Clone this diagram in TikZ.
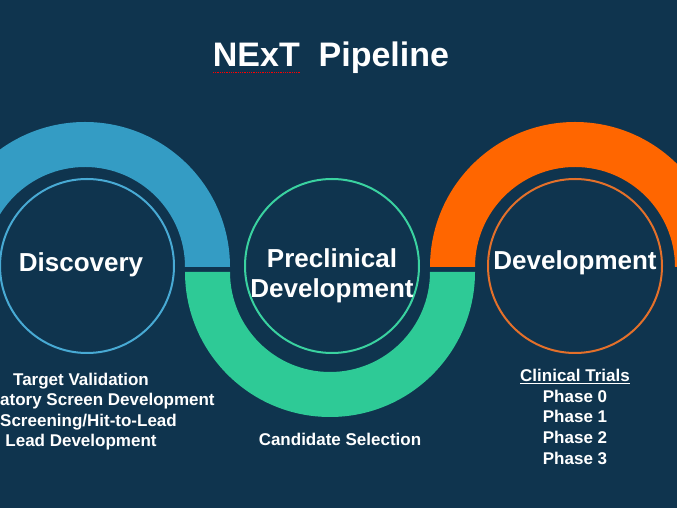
\documentclass[tikz,border=0pt]{standalone}
\usepackage{fontspec}
\setmainfont{Liberation Sans}
\definecolor{bg}{RGB}{15,52,78}
\definecolor{arcblue}{RGB}{52,156,196}
\definecolor{arcgreen}{RGB}{46,202,150}
\definecolor{arcorange}{RGB}{255,102,0}
\definecolor{ringblue}{RGB}{72,170,212}
\definecolor{ringgreen}{RGB}{58,210,160}
\definecolor{ringorange}{RGB}{228,112,42}

\begin{document}
\begin{tikzpicture}[x=1pt,y=1pt,
  big/.style={text=white,font=\bfseries\fontsize{26}{30}\selectfont,anchor=base,inner sep=0pt},
  small/.style={text=white,font=\bfseries\fontsize{17}{20}\selectfont,anchor=base,inner sep=0pt},
  ring/.style={circle,minimum size=174pt,line width=2pt,inner sep=0pt}]
\useasboundingbox (0,0) rectangle (677,508);
\clip (0,0) rectangle (677,508);
\fill[bg] (0,0) rectangle (677,508);
\fill[arcblue] (230,241) arc (0:180:145) -- (-15,241) arc (180:0:100) -- cycle;
\fill[arcgreen] (185,236) arc (180:360:145) -- (430,236) arc (360:180:100) -- cycle;
\fill[arcorange] (720,241) arc (0:180:145) -- (475,241) arc (180:0:100) -- cycle;
\node[ring,draw=ringblue] (disc) at (87,242) {};
\node[ring,draw=ringgreen] (pre) at (332,242) {};
\node[ring,draw=ringorange] (dev) at (575,242) {};
\node[big] (disclbl) at (81,236) {Discovery};
\node[big] (prelbla) at (332,240) {Preclinical};
\node[big] (prelblb) at (332,210) {Development};
\node[big] (devlbl) at (575,238) {Development};
\node[text=white,font=\bfseries\fontsize{34}{40}\selectfont,anchor=base,inner sep=0pt] (title) at (331,441) {NExT\ \ Pipeline};
\draw[red,densely dotted,line width=0.8pt] (213,436)--(300,436);
\node[small] (tv) at (81,122) {Target Validation};
\node[small,anchor=base west] (asd) at (0,102) {atory Screen Development};
\node[small,anchor=base west] (shl) at (0,81) {Screening/Hit-to-Lead};
\node[small] (ld) at (81,61) {Lead Development};
\node[small] (cs) at (340,62) {Candidate Selection};
\node[small] (ct) at (575,126) {\underline{Clinical Trials}};
\node[small] (p0) at (575,105) {Phase 0};
\node[small] (p1) at (575,85) {Phase 1};
\node[small] (p2) at (575,64) {Phase 2};
\node[small] (p3) at (575,43) {Phase 3};
\end{tikzpicture}
\end{document}
